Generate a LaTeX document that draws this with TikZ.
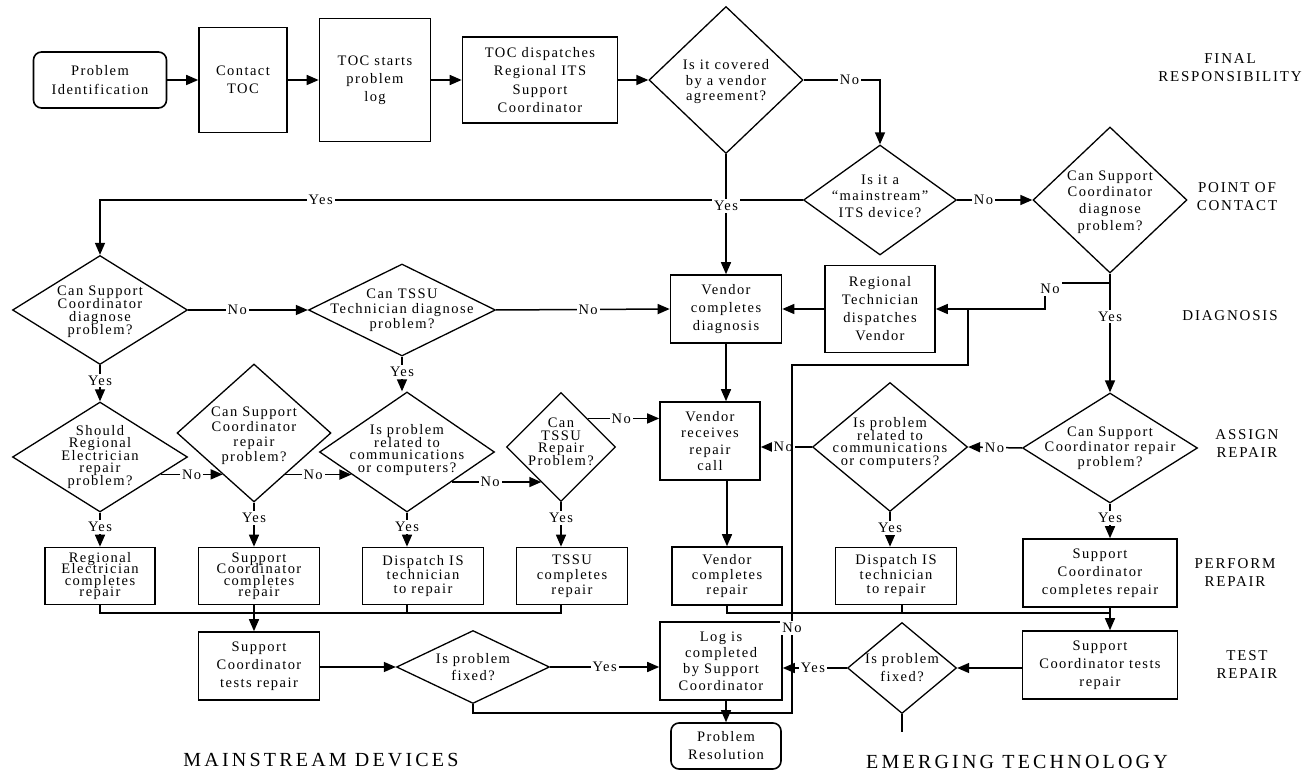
\documentclass[tikz,border=0pt]{standalone}
\usepackage{fontspec}
\setmainfont{Liberation Serif}[LetterSpace=10]
\usetikzlibrary{shapes.geometric,arrows.meta}
\newcommand\fside{\fontsize{15}{18}\selectfont\addfontfeature{LetterSpace=12}}
\newcommand\fbig{\fontsize{20}{24}\selectfont\addfontfeature{LetterSpace=16}}
\begin{document}
\begin{tikzpicture}[x=1pt,y=-1pt,
  fs/.style={font={\fontsize{14.5}{#1}\selectfont\lineskiplimit=-30pt\relax}},
  fs/.default=18,
  box/.style={draw, line width=1.6pt, inner sep=0pt, align=center, fs},
  dia/.style={draw, diamond, line width=1.3pt, inner sep=0pt},
  dtxt/.style={inner sep=0pt, align=center, fs},
  conn/.style={line width=1.5pt},
  arr/.style={conn, -{Triangle[length=12pt,width=10pt]}},
  lab/.style={fill=white, inner sep=2pt, fs},
  side/.style={align=center, inner sep=0pt, font=\fside},
  big/.style={inner sep=0pt, font=\fbig},
]
\useasboundingbox (0,0) rectangle (1314,775);

% ---- first row ----
\node[box, rounded corners=8pt, minimum width=133pt, minimum height=56pt, fs=19] (PI) at (100,80) {Problem\\Identification};
\node[box, minimum width=88pt, minimum height=105pt] (CT) at (243,80) {Contact\\TOC};
\node[box, minimum width=111pt, minimum height=123pt] (TS) at (375,80) {TOC starts\\problem\\log};
\node[box, minimum width=155pt, minimum height=86pt, fs=18.5] (TD) at (540,80) {TOC dispatches\\Regional ITS\\Support\\Coordinator};
\node[dia, minimum width=154pt, minimum height=147pt] (D1) at (726,80) {};
\node[dtxt, fs=15.5] (D1t) at (726,82) {Is it covered\\by a vendor\\agreement?};
\node[dia, minimum width=153pt, minimum height=110pt] (D2) at (880,200) {};
\node[dtxt, fs=16.5] (D2t) at (880,196) {Is it a\\“mainstream”\\ITS device?};
\node[dia, minimum width=154pt, minimum height=146pt] (D3) at (1110,200) {};
\node[dtxt, fs=16.7] (D3t) at (1110,202) {Can Support\\Coordinator\\diagnose\\problem?};

% ---- diagnosis row ----
\node[dia, minimum width=175pt, minimum height=109pt] (L1) at (100,310) {};
\node[dtxt, fs=13] (L1t) at (100,312) {Can Support\\Coordinator\\diagnose\\problem?};
\node[dia, minimum width=187pt, minimum height=92pt] (L2) at (402,310) {};
\node[dtxt, fs=15] (L2t) at (402,310) {Can TSSU\\Technician diagnose\\problem?};
\node[box, minimum width=111pt, minimum height=68pt] (VD) at (726,309) {Vendor\\completes\\diagnosis};
\node[box, minimum width=110pt, minimum height=87pt] (RT) at (880,309) {Regional\\Technician\\dispatches\\Vendor};

% ---- assign repair row ----
\node[dia, minimum width=175pt, minimum height=110pt] (L3) at (100,457) {};
\node[dtxt, fs=12.5] (L3t) at (100,457) {Should\\Regional\\Electrician\\repair\\problem?};
\node[dia, minimum width=154pt, minimum height=138pt] (L4) at (254,433) {};
\node[dtxt, fs=15] (L4t) at (254,436) {Can Support\\Coordinator\\repair\\problem?};
\node[dia, minimum width=175pt, minimum height=120pt] (L5) at (407,452) {};
\node[dtxt, fs=12.5] (L5t) at (407,450) {Is problem\\related to\\communications\\or computers?};
\node[dia, minimum width=109pt, minimum height=109pt] (L6) at (561,447) {};
\node[dtxt, fs=12.5] (L6t) at (561,442) {Can\\TSSU\\Repair\\Problem?};
\node[box, minimum width=100pt, minimum height=78pt, fs=16.5] (VR) at (710,441) {Vendor\\receives\\repair\\call};
\node[dia, minimum width=155pt, minimum height=129pt] (R1) at (890,447) {};
\node[dtxt, fs=12.7] (R1t) at (890,443) {Is problem\\related to\\communications\\or computers?};
\node[dia, minimum width=175pt, minimum height=110pt] (R2) at (1110,448) {};
\node[dtxt, fs=15] (R2t) at (1110,448) {Can Support\\Coordinator repair\\problem?};

% ---- perform repair row ----
\node[box, minimum width=110pt, minimum height=57pt, fs=11.5] (B1) at (100,576) {Regional\\Electrician\\completes\\repair};
\node[box, minimum width=121pt, minimum height=57pt, fs=11.5] (B2) at (259,576) {Support\\Coordinator\\completes\\repair};
\node[box, minimum width=121pt, minimum height=57pt, fs=13.7] (B3) at (423,576) {Dispatch IS\\technician\\to repair};
\node[box, minimum width=111pt, minimum height=57pt, fs=15] (B4) at (572,576) {TSSU\\completes\\repair};
\node[box, minimum width=110pt, minimum height=58pt, fs=15] (VCR) at (727,576) {Vendor\\completes\\repair};
\node[box, minimum width=121pt, minimum height=57pt, fs=14.5] (RB1) at (896,576) {Dispatch IS\\technician\\to repair};
\node[box, minimum width=154pt, minimum height=68pt] (RB2) at (1100,573) {Support\\Coordinator\\completes repair};

% ---- test repair row ----
\node[box, minimum width=121pt, minimum height=68pt] (T1) at (259,666) {Support\\Coordinator\\tests repair};
\node[dia, minimum width=153pt, minimum height=73pt] (F1) at (473,667) {};
\node[dtxt, fs=16.7] (F1t) at (473,667) {Is problem\\fixed?};
\node[box, minimum width=122pt, minimum height=78pt, fs=16.3] (Log) at (721,661) {Log is\\completed\\by Support\\Coordinator};
\node[dia, minimum width=109pt, minimum height=91pt] (F2) at (902,668) {};
\node[dtxt] (F2t) at (902,668) {Is problem\\fixed?};
\node[box, minimum width=155pt, minimum height=68pt] (T2) at (1100,665) {Support\\Coordinator tests\\repair};
\node[box, rounded corners=8pt, minimum width=110pt, minimum height=46pt] (PR) at (726,746) {Problem\\Resolution};

% ---- row captions ----
\node[side] (s1) at (1230,68) {FINAL\\RESPONSIBILITY};
\node[side] (s2) at (1237,197) {POINT OF\\CONTACT};
\node[side] (s3) at (1230,316) {DIAGNOSIS};
\node[side] (s4) at (1247,444) {ASSIGN\\REPAIR};
\node[side] (s5) at (1235,573) {PERFORM\\REPAIR};
\node[side] (s6) at (1247,665) {TEST\\REPAIR};
\node[big] (g1) at (321,760) {MAINSTREAM DEVICES};
\node[big] (g2) at (1017,762) {EMERGING TECHNOLOGY};

% ---- connectors ----
\draw[arr] (PI.east) -- (CT.west);
\draw[arr] (CT.east) -- (TS.west);
\draw[arr] (TS.east) -- (TD.west);
\draw[arr] (TD.east) -- (D1.west);
\draw[arr] (D1.east) -| node[lab, pos=0.3] (n1) {No} (D2.north);
\draw[arr] (D2.east) -- node[lab, pos=0.35] (n2) {No} (D3.west);
\draw[arr] (D2.west) -| node[lab, pos=0.343] (y1) {Yes} (L1.north);
\draw[arr] (D1.south) -- node[lab, pos=0.43] (y2) {Yes} (VD.north);
\draw[arr] (L1.east) -- node[lab, pos=0.41] (n3) {No} (L2.west);
\draw[arr] (L2.east) -- node[lab, pos=0.53] (n4) {No} (VD.west);
\draw[arr] (RT.west) -- (VD.east);
\draw[arr] (D3.south) -- node[lab, pos=0.36] (y3) {Yes} (R2.north);
\coordinate (dn) at (1110,283);
\coordinate (dc) at (1045,309);
\draw[arr] (dn) -| (dc) -- (RT.east);
\node[lab] (n5) at (1050,289) {No};

\draw[arr] (L1.south) -- node[lab, pos=0.42] (y4) {Yes} (L3.north);
\draw[arr] (L2.south) -- node[lab, pos=0.44] (y5) {Yes} (L2.south |- L5.north);
\draw[arr] (L3.-16) -- node[lab, pos=0.5] (n6) {No} (L3.-16 -| L4.-127);
\draw[arr] (L4.-53) -- node[lab, pos=0.42] (n7) {No} (L4.-53 -| L5.-158);
\draw[arr] (L5.-34) -- node[lab, pos=0.43] (n8) {No} (L5.-34 -| L6.-119);
\draw[arr] (L6.47) -- node[lab, pos=0.47] (n9) {No} (L6.47 -| VR.west);
\draw[arr] (VD.south) -- (VD.south |- VR.north);
\draw[arr] (VCR.north |- VR.south) -- (VCR.north);
\draw[arr] (R2.west) -- node[lab, pos=0.51] (n10) {No} (R1.east);
\draw[arr] (R1.west) -- node[lab, pos=0.56] (n11) {No} (R1.west -| VR.east);

\draw[arr] (L3.south) -- node[lab, pos=0.42] (y6) {Yes} (B1.north);
\draw[arr] (L4.south) -- node[lab, pos=0.35] (y7) {Yes} (L4.south |- B2.north);
\draw[arr] (L5.south) -- node[lab, pos=0.42] (y8) {Yes} (L5.south |- B3.north);
\draw[arr] (L6.south) -- node[lab, pos=0.36] (y9) {Yes} (L6.south |- B4.north);
\draw[arr] (R1.south) -- node[lab, pos=0.46] (y10) {Yes} (R1.south |- RB1.north);
\draw[arr] (R2.south) -- node[lab, pos=0.42] (y11) {Yes} (R2.south |- RB2.north);

\coordinate (ml) at (0,613);
\draw[conn] (B1.south) |- (L6.south |- ml) -- (L6.south |- B4.south);
\draw[conn] (L5.south |- B3.south) -- (L5.south |- ml);
\draw[arr] (L4.south |- B2.south) -- (L4.south |- T1.north);
\draw[arr] (VCR.south) |- (R2.south |- ml) -- (R2.south |- T2.north);
\draw[conn] (F2.north |- RB1.south) -- (F2.north |- ml);
\draw[conn] (R2.south |- RB2.south) -- (R2.south |- ml);

\draw[arr] (T1.east |- F1.west) -- (F1.west);
\draw[arr] (F1.east) -- node[lab, pos=0.5] (y12) {Yes} (F1.east -| Log.west);
\draw[arr] (T2.west |- F2.east) -- (F2.east);
\draw[arr] (F2.west) -- node[lab, pos=0.53] (y13) {Yes} (F2.west -| Log.east);
\draw[arr] (PR.north |- Log.south) -- (PR.north);
\coordinate (fe) at (902,732);
\draw[conn] (F2.south) -- (fe);

% "No" from the left test back to the regional technician
\coordinate (m1) at (792,713);
\coordinate (m2) at (792,365);
\coordinate (m3) at (968,309);
\draw[conn] (F1.south) |- (m1) -- node[lab, pos=0.244] (n12) {No} (m2) -| (m3);
\end{tikzpicture}
\end{document}
